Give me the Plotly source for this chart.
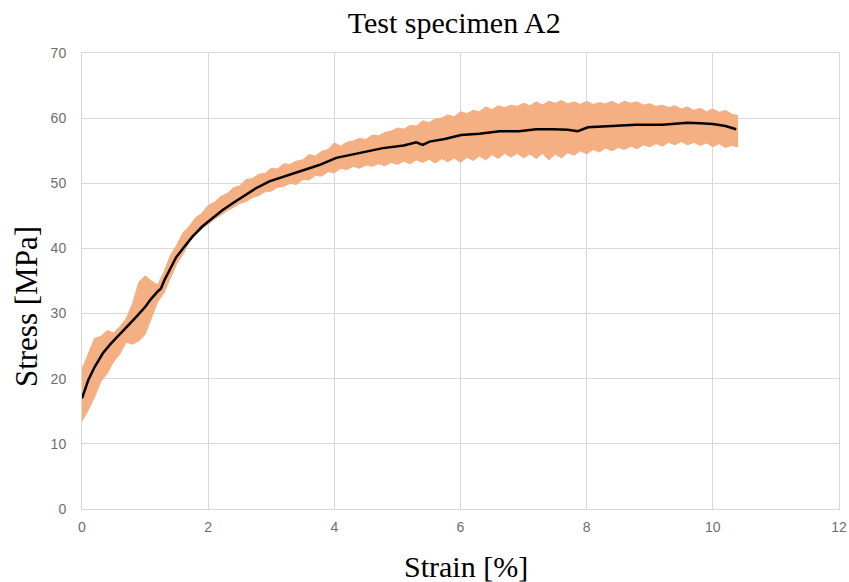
import plotly.graph_objects as go

band_strain = [0.0, 0.1, 0.2, 0.3, 0.4, 0.5, 0.6, 0.7, 0.8, 0.9,
               1.0, 1.1, 1.2, 1.3, 1.4, 1.5, 1.6, 1.7, 1.8, 1.9,
               2.0, 2.1, 2.2, 2.3, 2.4, 2.5, 2.6, 2.7, 2.8, 2.9,
               3.0, 3.1, 3.2, 3.3, 3.4, 3.5, 3.6, 3.7, 3.8, 3.9,
               4.0, 4.1, 4.2, 4.3, 4.4, 4.5, 4.6, 4.7, 4.8, 4.9,
               5.0, 5.1, 5.2, 5.3, 5.4, 5.5, 5.6, 5.7, 5.8, 5.9,
               6.0, 6.1, 6.2, 6.3, 6.4, 6.5, 6.6, 6.7, 6.8, 6.9,
               7.0, 7.1, 7.2, 7.3, 7.4, 7.5, 7.6, 7.7, 7.8, 7.9,
               8.0, 8.1, 8.2, 8.3, 8.4, 8.5, 8.6, 8.7, 8.8, 8.9,
               9.0, 9.1, 9.2, 9.3, 9.4, 9.5, 9.6, 9.7, 9.8, 9.9,
               10.0, 10.1, 10.2, 10.3, 10.4]
band_upper = [21.5, 24.0, 26.2, 26.5, 27.4, 27.0, 28.0, 29.2, 31.5, 34.8,
              35.8, 35.0, 34.4, 36.4, 38.9, 40.5, 42.4, 43.4, 44.7, 45.4,
              46.6, 47.1, 48.0, 48.4, 49.3, 49.6, 50.6, 50.7, 51.4, 51.5,
              52.3, 52.2, 53.0, 52.9, 53.4, 53.6, 54.4, 54.2, 54.9, 55.2,
              56.2, 55.7, 56.3, 56.5, 56.9, 56.7, 57.4, 57.3, 57.8, 58.0,
              58.5, 58.3, 58.9, 58.8, 59.6, 59.3, 59.9, 60.0, 60.5, 60.2,
              61.0, 60.7, 61.2, 61.0, 61.7, 61.3, 61.9, 61.6, 62.0, 61.8,
              62.3, 61.9, 62.5, 62.0, 62.6, 62.3, 62.7, 62.2, 62.5, 62.1,
              62.6, 62.1, 62.4, 62.2, 62.6, 62.1, 62.6, 62.3, 62.5, 62.0,
              62.2, 61.8, 62.0, 61.6, 61.9, 61.4, 61.7, 61.2, 61.5, 61.0,
              61.4, 60.9, 61.2, 60.6, 60.4]
band_lower = [13.5, 15.2, 17.2, 19.6, 20.8, 22.6, 23.8, 25.6, 25.3, 25.8,
              26.8, 29.2, 31.8, 33.2, 35.3, 37.6, 39.1, 41.0, 42.1, 43.0,
              43.7, 44.5, 45.1, 45.8, 46.3, 46.9, 47.2, 47.8, 48.1, 48.7,
              48.8, 49.4, 49.5, 50.0, 49.8, 50.6, 50.5, 51.2, 51.1, 51.8,
              51.6, 52.3, 52.1, 52.6, 52.3, 52.8, 52.6, 53.0, 52.7, 53.2,
              52.9, 53.4, 53.0, 53.6, 53.2, 53.7, 53.1, 53.8, 53.3, 53.9,
              53.2, 54.0, 53.5, 54.2, 53.6, 54.4, 53.8, 54.6, 54.0, 54.6,
              53.9, 54.5, 53.8, 54.6, 53.6, 54.5, 53.9, 54.7, 54.3, 55.0,
              54.5, 55.2, 54.8, 55.4, 55.0, 55.5, 55.2, 55.7, 55.3, 55.9,
              55.6, 56.1, 55.7, 56.3, 55.9, 56.4, 55.9, 56.3, 55.8, 56.2,
              55.6, 56.1, 55.5, 55.8, 55.6]

# Averaged (black) curve
mean_strain = [0, 0.05, 0.1, 0.2, 0.33, 0.45, 0.59, 0.72, 0.86, 1.0, 1.1, 1.2, 1.25, 1.3, 1.39, 1.49, 1.6,
               1.75, 1.91, 2.07, 2.23, 2.4, 2.55, 2.75, 2.97, 3.2, 3.45, 3.76, 4.03, 4.4, 4.77, 5.1, 5.3,
               5.4, 5.51, 5.75, 6.01, 6.3, 6.62, 6.93, 7.2, 7.46, 7.7, 7.86, 8.02, 8.4, 8.78, 9.2, 9.6,
               9.8, 10.0, 10.2, 10.37]
mean_stress = [17.0, 18.5, 19.8, 21.8, 23.9, 25.3, 26.7, 28.0, 29.5, 31.0, 32.3, 33.4, 33.8, 35.0, 36.7,
               38.6, 40.0, 41.8, 43.4, 44.6, 45.9, 47.0, 48.0, 49.2, 50.3, 51.0, 51.8, 52.8, 53.9, 54.6,
               55.4, 55.8, 56.3, 55.9, 56.4, 56.8, 57.4, 57.6, 58.0, 58.0, 58.3, 58.3, 58.2, 58.0, 58.6,
               58.8, 59.0, 59.0, 59.3, 59.2, 59.1, 58.8, 58.3]

x_ticks = [0, 2, 4, 6, 8, 10, 12]
y_ticks = [0, 10, 20, 30, 40, 50, 60, 70]

orange = "#F4AF82"
grid = "#D9D9D9"

fig = go.Figure()
fig.add_trace(go.Scatter(x=band_strain, y=band_lower, mode="lines",
                         line=dict(color=orange, width=1), showlegend=False, hoverinfo="skip"))
fig.add_trace(go.Scatter(x=band_strain, y=band_upper, mode="lines", fill="tonexty",
                         fillcolor=orange, line=dict(color=orange, width=1), showlegend=False,
                         hoverinfo="skip"))
fig.add_trace(go.Scatter(x=mean_strain, y=mean_stress, mode="lines",
                         line=dict(color="black", width=2.5), showlegend=False))

tickfont = dict(family="Liberation Sans, Arial, sans-serif", size=14, color="#6E6E6E")
serif = "Liberation Serif, Times New Roman, serif"

fig.update_layout(
    width=849, height=582,
    paper_bgcolor="white", plot_bgcolor="white",
    margin=dict(l=82, r=10, t=53, b=73),
    title=dict(text="Test specimen A2", x=0.535, xanchor="center", y=0.962, yanchor="middle",
               yref="container", font=dict(family=serif, size=30, color="black")),
    xaxis=dict(range=[0, 12], tickvals=x_ticks, ticktext=[str(v) for v in x_ticks],
               showgrid=True, gridcolor=grid, gridwidth=1, zeroline=False,
               showline=True, linecolor=grid, mirror=True, ticks="",
               tickfont=tickfont, ticklabelstandoff=5, ticklabeloverflow="allow",
               automargin=False),
    yaxis=dict(range=[0, 70], tickvals=y_ticks, ticktext=[str(v) for v in y_ticks],
               showgrid=True, gridcolor=grid, gridwidth=1, zeroline=False,
               showline=True, linecolor=grid, mirror=True, ticks="",
               tickfont=tickfont, ticklabelstandoff=12, ticklabeloverflow="allow",
               automargin=False),
    annotations=[
        dict(text="Strain [%]", xref="paper", yref="paper", x=0.507, y=-0.127,
             xanchor="center", yanchor="middle", showarrow=False,
             font=dict(family=serif, size=30, color="black")),
        dict(text="Stress [MPa]", xref="paper", yref="paper", x=-0.074, y=0.445,
             xanchor="center", yanchor="middle", textangle=-90, showarrow=False,
             font=dict(family=serif, size=31, color="black")),
    ],
)

fig.write_html("out.html", config={"displayModeBar": False})

# remove the default page margin so the figure fills the window exactly
with open("out.html", "r", encoding="utf-8") as f:
    html = f.read()
html = html.replace("<head>", "<head><style>html,body{margin:0;padding:0;overflow:hidden;}</style>", 1)
with open("out.html", "w", encoding="utf-8") as f:
    f.write(html)
